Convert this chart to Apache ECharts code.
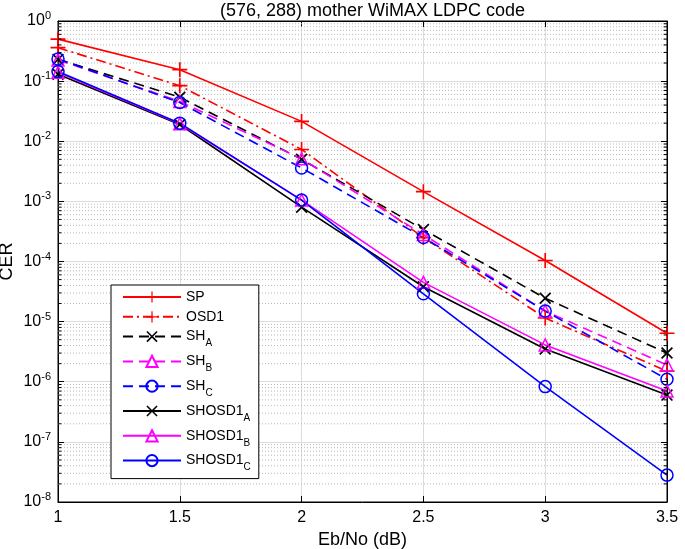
<!DOCTYPE html>
<html>
<head>
<meta charset="utf-8">
<script src="https://cdn.jsdelivr.net/npm/echarts@6/dist/echarts.min.js"></script>
<style>html,body{margin:0;padding:0;background:#fff}#c{width:685px;height:549px}</style>
</head>
<body>
<div id="c"></div>
<script>
const ebno = [1, 1.5, 2, 2.5, 3, 3.5];
const SP       = [0.5,   0.155, 0.0214, 1.45e-3, 1.04e-4, 6.4e-6];
const OSD1     = [0.36,  0.084, 7.3e-3, 2.5e-4,  1.15e-5, 1.5e-6];
const SH_A     = [0.23,  0.054, 5.0e-3, 3.4e-4,  2.45e-5, 3.0e-6];
const SH_B     = [0.225, 0.046, 5.1e-3, 2.8e-4,  1.5e-5,  1.9e-6];
const SH_C     = [0.234, 0.044, 3.6e-3, 2.5e-4,  1.5e-5,  1.1e-6];
const SHOSD1_A = [0.13,  0.019, 8.0e-4, 3.8e-5,  3.5e-6,  6.0e-7];
const SHOSD1_B = [0.14,  0.0195,1.05e-3,4.5e-5,  4.1e-6,  7.0e-7];
const SHOSD1_C = [0.145, 0.020, 1.05e-3,2.9e-5,  8.3e-7,  2.8e-8];
const yMin = 1e-8, yMax = 1;
const minorMantissas = [2, 3, 4, 5, 6, 7, 8, 9];
const decadeExps = [-8, -7, -6, -5, -4, -3, -2, -1];

const FONT = '"Liberation Sans", Arial, Helvetica, sans-serif';
const PLUS = 'path://M44.5,0H55.5V44.5H100V55.5H55.5V100H44.5V55.5H0V44.5H44.5Z';
const XMK = 'path://M0,10L10,0L50,40L90,0L100,10L60,50L100,90L90,100L50,60L10,100L0,90L40,50Z';

function pts(arr){ return ebno.map((x,i)=>[x, arr[i]]); }

const minorVals = [];
decadeExps.forEach(e => minorMantissas.forEach(m => minorVals.push(m * Math.pow(10, e))));

const xLo = ebno[0], xHi = ebno[ebno.length - 1];
const tickLen = 0.014;
const gridPts = [], tickPts = [];
minorVals.forEach(v => {
  gridPts.push([xLo, v], [xHi, v], [xLo, '-']);
  tickPts.push([xLo, v], [xLo + tickLen, v], [xLo, '-']);
  tickPts.push([xHi - tickLen, v], [xHi, v], [xHi, '-']);
});

function mk(name, arr, color, lineType, symbol, size, hollow){
  return {
    name, type:'line', data: pts(arr), z: 3,
    symbol, symbolSize: size, showSymbol: true,
    lineStyle: {color, width: 1.6, type: lineType},
    itemStyle: hollow ? {color:'rgba(0,0,0,0)', borderColor: color, borderWidth: 1.5}
                      : {color, borderWidth: 0},
    emphasis: {disabled: true}
  };
}

const names = ['SP','OSD1','SH_A','SH_B','SH_C','SHOSD1_A','SHOSD1_B','SHOSD1_C'];

const chart = echarts.init(document.getElementById('c'), null, {renderer:'canvas'});
chart.setOption({
  animation: false,
  backgroundColor: '#fff',
  textStyle: {fontFamily: FONT},
  grid: {left: 58, right: 18, top: 21, bottom: 47, containLabel: false, outerBoundsMode: 'none',
         show: true, borderColor: '#000', borderWidth: 1, backgroundColor: 'rgba(0,0,0,0)'},
  legend: {
    orient: 'vertical', left: 111, top: 285,
    itemWidth: 58, itemHeight: 14, itemGap: 5.8,
    padding: [5, 8, 6, 11],
    borderColor: '#000', borderWidth: 1, backgroundColor: '#fff',
    data: names,
    textStyle: {fontFamily: FONT, fontSize: 14, color: '#000',
      rich: {sub: {fontFamily: FONT, fontSize: 10, color:'#000', padding: [14, 0, 0, 0]}}},
    formatter: n => { const p = n.split('_'); return p.length > 1 ? p[0] + '{sub|' + p[1] + '}' : n; }
  },
  xAxis: [{
    type: 'value', min: 1, max: 3.5, interval: 0.5, position: 'bottom',
    name: 'Eb/No (dB)', nameLocation: 'middle', nameGap: 29,
    nameTextStyle: {fontFamily: FONT, fontSize: 18, color: '#000'},
    axisLine: {show: true, onZero: false, lineStyle: {color: '#000', width: 1}},
    axisTick: {show: true, inside: true, length: 6, lineStyle: {color: '#000'}},
    axisLabel: {fontFamily: FONT, fontSize: 16, color: '#000', margin: 8},
    splitLine: {show: true, lineStyle: {color: '#dcdcdc', width: 1}}
  }, {
    type: 'value', min: 1, max: 3.5, interval: 0.5, position: 'top',
    name: '(576, 288) mother WiMAX LDPC code', nameLocation: 'middle', nameGap: 1,
    nameTextStyle: {fontFamily: FONT, fontSize: 18, color: '#000', padding: [0, 0, 0, 20]},
    axisLine: {show: true, onZero: false, lineStyle: {color: '#000', width: 1}},
    axisTick: {show: true, inside: true, length: 6, lineStyle: {color: '#000'}},
    axisLabel: {show: false}, splitLine: {show: false}
  }],
  yAxis: [{
    type: 'log', logBase: 10, min: yMin, max: yMax, interval: 1, position: 'left',
    name: 'CER', nameLocation: 'middle', nameGap: 42, nameRotate: 90, nameMoveOverlap: false,
    nameTextStyle: {fontFamily: FONT, fontSize: 18, color: '#000'},
    axisLine: {show: true, onZero: false, lineStyle: {color: '#000', width: 1}},
    axisTick: {show: true, inside: true, length: 6, lineStyle: {color: '#000'}},
    axisLabel: {
      fontFamily: FONT, fontSize: 16, color: '#000', margin: 7,
      formatter: v => '10{sup|' + Math.round(Math.log10(v)) + '}',
      rich: {sup: {fontFamily: FONT, fontSize: 11, color: '#000', padding: [0, 0, 10, 0]}}
    },
    splitLine: {show: true, lineStyle: {color: '#dcdcdc', width: 1}}
  }, {
    type: 'log', logBase: 10, min: yMin, max: yMax, interval: 1, position: 'right',
    axisLine: {show: true, onZero: false, lineStyle: {color: '#000', width: 1}},
    axisTick: {show: true, inside: true, length: 6, lineStyle: {color: '#000'}},
    axisLabel: {show: false}, splitLine: {show: false}
  }],
  series: [
    {
      name: '_minorgrid', type: 'line', data: gridPts, z: 1, silent: true,
      symbol: 'none', connectNulls: false,
      lineStyle: {color: '#b8b8b8', type: [1, 2], width: 1},
      emphasis: {disabled: true}
    },
    {
      name: '_minorticks', type: 'line', data: tickPts, z: 4, silent: true,
      symbol: 'none', connectNulls: false,
      lineStyle: {color: '#000', type: 'solid', width: 1},
      emphasis: {disabled: true}
    },
    mk('SP', SP, '#ff0000', 'solid', PLUS, 15, false),
    mk('OSD1', OSD1, '#ff0000', [10, 4, 2, 4], PLUS, 15, false),
    mk('SH_A', SH_A, '#000000', [10, 6], XMK, 12, false),
    mk('SH_B', SH_B, '#ff00ff', [10, 6], 'triangle', 12, true),
    mk('SH_C', SH_C, '#0000ff', [10, 6], 'circle', 12, true),
    mk('SHOSD1_A', SHOSD1_A, '#000000', 'solid', XMK, 12, false),
    mk('SHOSD1_B', SHOSD1_B, '#ff00ff', 'solid', 'triangle', 12, true),
    mk('SHOSD1_C', SHOSD1_C, '#0000ff', 'solid', 'circle', 12, true)
  ]
});
</script>
</body>
</html>
